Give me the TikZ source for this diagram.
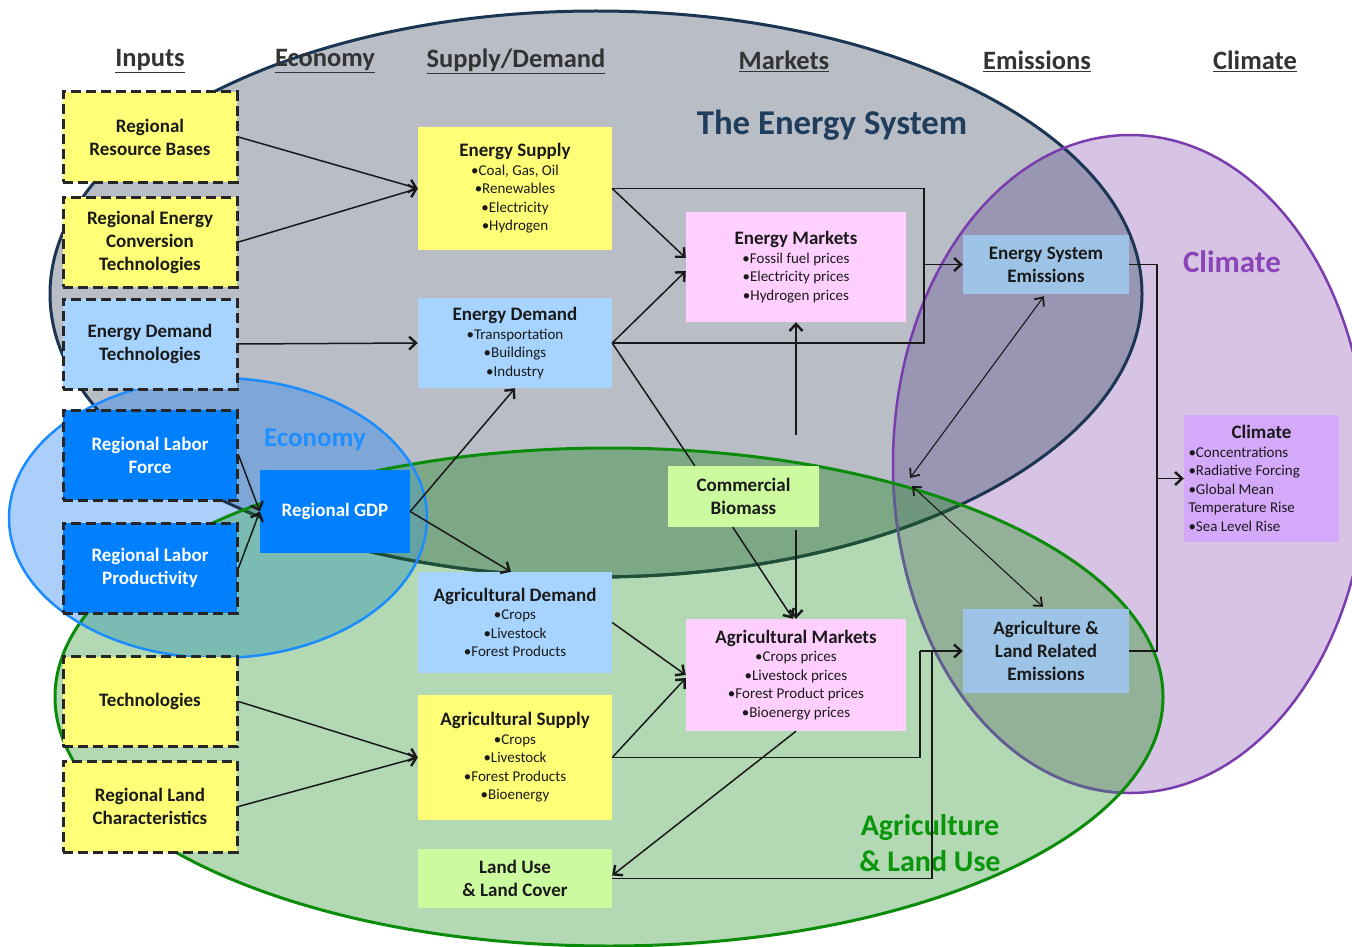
\documentclass[tikz,border=0pt]{standalone}
\usepackage{fontspec}
\setmainfont{Carlito}
\usetikzlibrary{arrows.meta,calc}
\definecolor{cE}{HTML}{B9BDC6}
\definecolor{cC}{HTML}{D7C3E4}
\definecolor{cG}{HTML}{B3D8B4}
\definecolor{cY}{HTML}{ACCEFA}
\definecolor{cEC}{HTML}{9996B4}
\definecolor{cEG}{HTML}{7CA886}
\definecolor{cGC}{HTML}{93B099}
\definecolor{cEGC}{HTML}{709680}
\definecolor{cYE}{HTML}{7EA7D8}
\definecolor{cYG}{HTML}{7ABCB4}
\definecolor{cYEG}{HTML}{66A2A0}
\definecolor{eEdge}{HTML}{1B3552}
\definecolor{cEdge}{HTML}{7A3DAE}
\definecolor{gEdge}{HTML}{0A8C0A}
\definecolor{yEdge}{HTML}{1A8CFF}
\definecolor{eEdgeG}{HTML}{1E5038}
\definecolor{cEdgeG}{HTML}{5E6090}
\definecolor{byel}{HTML}{FFFF77}
\definecolor{blb}{HTML}{A6D4FF}
\definecolor{bblue}{HTML}{0080FF}
\definecolor{bpink}{HTML}{FFD0FF}
\definecolor{blg}{HTML}{CCFA9E}
\definecolor{bemis}{HTML}{9DC3E6}
\definecolor{bclim}{HTML}{D5A9FA}
\definecolor{tx}{HTML}{1A1A1A}
\definecolor{hdr}{HTML}{333333}
\definecolor{tEnergy}{HTML}{1F3D5C}
\definecolor{tClim}{HTML}{8A44B8}
\definecolor{tEco}{HTML}{1E8FFF}
\definecolor{tAgr}{HTML}{0A960A}
\newcommand{\bh}[1]{{\bfseries\fontsize{19}{23}\selectfont #1}}
\def\Epath{(596,294) ellipse [x radius=546pt, y radius=283pt]}
\def\Cpath{(1130,464) ellipse [x radius=237pt, y radius=329pt]}
\def\Gpath{(609,697) ellipse [x radius=554pt, y radius=249pt]}
\def\Ypath{(218,518) ellipse [x radius=209pt, y radius=140pt]}
\tikzset{
  box/.style={inner sep=2pt, align=center, text=tx, font=\fontsize{15}{18.5}\selectfont},
  bbox/.style={inner sep=2pt, align=center, text=tx, font=\bfseries\fontsize{19}{23}\selectfont},
  inbox/.style={bbox, draw=black!85, line width=3pt, dash pattern=on 10pt off 5pt,
    minimum width=174pt, minimum height=90pt},
  colhead/.style={font=\bfseries\fontsize{26.5}{30}\selectfont, text=hdr},
  conn/.style={line width=1.5pt, draw=black!90},
  arr/.style={conn, -{Straight Barb[length=7pt,width=13pt,line width=2.4pt]}},
  darr/.style={line width=1.1pt, draw=black!90,
    {Straight Barb[length=7pt,width=12pt,line width=1.8pt]}-{Straight Barb[length=7pt,width=12pt,line width=1.8pt]}},
}
\begin{document}
\begin{tikzpicture}[x=1pt,y=-1pt]
\useasboundingbox (0,0) rectangle (1352,947);
\fill[white] (0,0) rectangle (1352,947);
\clip (0,0) rectangle (1352,947);
% ---- region fills
\fill[cE] \Epath;
\fill[cC] \Cpath;
\begin{scope}\clip \Epath; \fill[cEC] \Cpath; \end{scope}
\fill[cG] \Gpath;
\begin{scope}\clip \Gpath; \fill[cEG] \Epath; \end{scope}
\begin{scope}\clip \Gpath; \fill[cGC] \Cpath; \end{scope}
\begin{scope}\clip \Gpath; \clip \Epath; \fill[cEGC] \Cpath; \end{scope}
\fill[cY] \Ypath;
\begin{scope}\clip \Ypath; \fill[cYE] \Epath; \end{scope}
\begin{scope}\clip \Ypath; \fill[cYG] \Gpath; \end{scope}
\begin{scope}\clip \Ypath; \clip \Epath; \fill[cYEG] \Gpath; \end{scope}
% ---- region borders
\draw[line width=3pt, eEdge] \Epath;
\draw[line width=2.5pt, cEdge] \Cpath;
\begin{scope}\clip \Gpath;
  \draw[line width=3pt, eEdgeG] \Epath;
  \draw[line width=2.5pt, cEdgeG] \Cpath;
\end{scope}
\draw[line width=3pt, gEdge] \Gpath;
\draw[line width=2.5pt, yEdge] \Ypath;
% ---- region titles
\node[font=\bfseries\fontsize{34.8}{40}\selectfont, text=tEnergy] (tes) at (832,125) {The Energy System};
\node[font=\bfseries\fontsize{31}{36}\selectfont, text=tClim] (tcl) at (1232,262) {Climate};
\node[font=\bfseries\fontsize{27}{32}\selectfont, text=tEco] (tec) at (315,440) {Economy};
\node[font=\bfseries\fontsize{30}{36}\selectfont, text=tAgr, align=center] (tag) at (930,843) {Agriculture\\\& Land Use};
% ---- column headers
\node[colhead] (h1) at (150,61) {\underline{Inputs}};
\node[colhead] (h2) at (325,61) {\underline{Economy}};
\node[colhead] (h3) at (516,61) {\underline{Supply/Demand}};
\node[colhead] (h4) at (784,61) {\underline{Markets}};
\node[colhead] (h5) at (1037,61) {\underline{Emissions}};
\node[colhead] (h6) at (1255,61) {\underline{Climate}};
% ---- input boxes
\node[inbox, fill=byel] (rrb) at (150,137) {Regional\\Resource Bases};
\node[inbox, fill=byel] (rect) at (150,242) {Regional Energy\\Conversion\\Technologies};
\node[inbox, fill=blb] (edt) at (150,344) {Energy Demand\\Technologies};
\node[inbox, fill=bblue, text=white] (rlf) at (150,455) {Regional Labor\\Force};
\node[inbox, fill=bblue, text=white] (rlp) at (150,568) {Regional Labor\\Productivity};
\node[inbox, fill=byel] (tech) at (150,701.5) {Technologies};
\node[inbox, fill=byel, minimum height=91pt] (rlc) at (150,806.5) {Regional Land\\Characteristics};
% ---- economy
\node[bbox, fill=bblue, text=white, minimum width=150pt, minimum height=83pt] (gdp) at (335,511.5) {Regional GDP};
% ---- supply / demand
\node[box, fill=byel, minimum width=194pt, minimum height=123pt] (es) at (515,188.5)
  {\bh{Energy Supply}\\•Coal, Gas, Oil\\•Renewables\\•Electricity\\•Hydrogen};
\node[box, fill=blb, minimum width=194pt, minimum height=90pt] (ed) at (515,343)
  {\bh{Energy Demand}\\•Transportation\\•Buildings\\•Industry};
\node[box, fill=blb, minimum width=194pt, minimum height=101pt] (ad) at (515,622.5)
  {\bh{Agricultural Demand}\\•Crops\\•Livestock\\•Forest Products};
\node[box, fill=byel, minimum width=194pt, minimum height=125pt] (as) at (515,757.5)
  {\bh{Agricultural Supply}\\•Crops\\•Livestock\\•Forest Products\\•Bioenergy};
\node[bbox, fill=blg, minimum width=194pt, minimum height=59pt] (lu) at (515,878.5) {Land Use\\\& Land Cover};
% ---- markets
\node[box, fill=bpink, minimum width=220pt, minimum height=110pt] (em) at (796,267)
  {\bh{Energy Markets}\\•Fossil fuel prices\\•Electricity prices\\•Hydrogen prices};
\node[box, fill=bpink, minimum width=220pt, minimum height=112pt] (am) at (796,675)
  {\bh{Agricultural Markets}\\•Crops prices\\•Livestock prices\\•Forest Product prices\\•Bioenergy prices};
\node[bbox, fill=blg, minimum width=151pt, minimum height=61pt] (cb) at (743.5,496.5) {Commercial\\Biomass};
% ---- emissions
\node[bbox, fill=bemis, minimum width=166pt, minimum height=59pt] (ese) at (1046,264.5) {Energy System\\Emissions};
\node[bbox, fill=bemis, minimum width=166pt, minimum height=84pt] (ale) at (1046,651) {Agriculture \&\\Land Related\\Emissions};
% ---- climate
\node[box, fill=bclim, minimum width=155pt, minimum height=127pt, align=left, inner sep=0pt] (clim) at (1261.5,478.5)
  {\makebox[146pt][c]{\bh{Climate}}\\•Concentrations\\•Radiative Forcing\\•Global Mean\\Temperature Rise\\•Sea Level Rise};
% ---- helper coordinates
\coordinate (jE) at (924,264.5);
\coordinate (jA) at (920,651);
\coordinate (jC) at (1157,478.5);
\coordinate (hub) at (910,482);
\coordinate (upv) at (796,435);
\coordinate (dnv) at (796,530);
% ---- connectors
\draw[arr] (rrb.east) -- (es.west);
\draw[arr] (rect.east) -- (es.west);
\draw[arr] (edt.east) -- (ed.west);
\draw[arr] (rlf.east) -- (gdp.west);
\draw[arr] (rlp.east) -- (gdp.west);
\draw[arr] (gdp.east) -- (ed.south);
\draw[arr] (gdp.east) -- ($(ad.north)+(-4,0)$);
\draw[arr] (tech.east) -- (as.west);
\draw[arr] (rlc.east) -- (as.west);
\draw[arr] (es.east) -- ($(em.west)+(0,-9)$);
\draw[arr] (ed.east) -- ($(em.west)+(0,4)$);
\draw[conn] (ed.east) -- ($(cb.north west)+(27,0)$);
\draw[conn] (es.east) -| (jE);
\draw[conn] (ed.east) -| (jE);
\draw[arr] (jE) -- (ese.west);
\draw[arr] (upv) -- (em.south);
\draw[arr] ($(cb.south west)+(65,0)$) -- ($(am.north)+(-3,0)$);
\draw[arr] (dnv) -- (am.north);
\draw[arr] (ad.east) -- (am.west);
\draw[arr] (as.east) -- ($(am.west)+(0,3)$);
\draw[conn] (as.east) -| (jA);
\draw[conn] (lu.east) -| ($(jA)+(12,0)$);
\draw[arr] (jA) -- (ale.west);
\draw[arr] (am.south) -- ($(lu.east)+(0,-3)$);
\draw[conn] (ese.east) -| (jC);
\draw[conn] (ale.east) -| (jC);
\draw[arr] (jC) -- (clim.west);
\draw[darr] ($(hub)+(0,-4)$) -- ($(ese.south)+(-2,2)$);
\draw[darr] ($(hub)+(2,4)$) -- ($(ale.north)+(-3,-2)$);
\end{tikzpicture}
\end{document}
